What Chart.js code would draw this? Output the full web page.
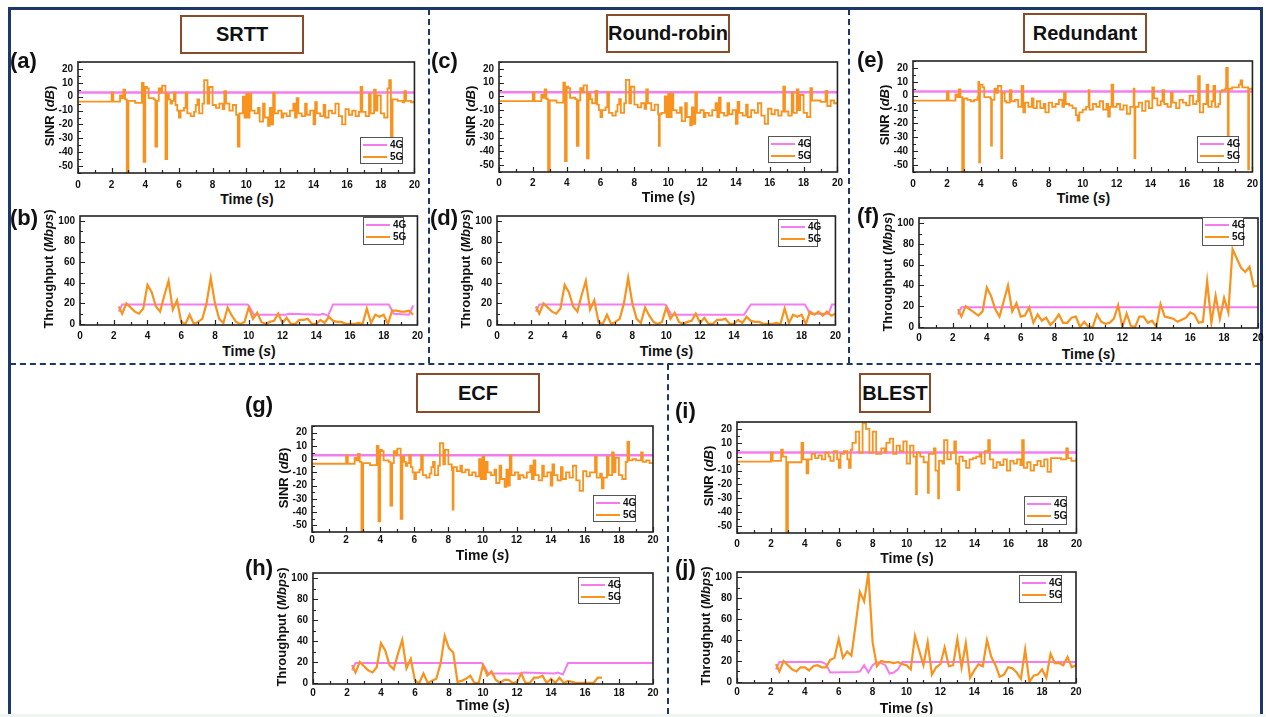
<!DOCTYPE html>
<html>
<head>
<meta charset="utf-8">
<script src="https://cdn.jsdelivr.net/npm/chart.js@4.4.1/dist/chart.umd.min.js"></script>
<style>
  body { margin: 0; width: 1266px; height: 717px; background: #fff; position: relative; overflow: hidden;
         font-family: "Liberation Sans", Arial, sans-serif; color: #111; }
  .frame { position: absolute; left: 8px; top: 7px; width: 1255px; height: 740px; border: 3px solid #1d3868; box-sizing: border-box; }
  .dv { position: absolute; width: 0; border-left: 2px dashed #1d3868; }
  .dh { position: absolute; height: 0; border-top: 2px dashed #1d3868; }
  .band { position: absolute; left: 0; top: 714px; width: 1266px; height: 3px; background: #eff6f2; z-index: 5; }
  .title { position: absolute; box-sizing: border-box; border: 2px solid #8a4b2a; background: #fff;
           font-weight: bold; font-size: 20px; display: flex; align-items: center; justify-content: center; }
  .lab { position: absolute; font-weight: bold; font-size: 22px; line-height: 1; }
  .yt { position: absolute; font-weight: bold; font-size: 13px; white-space: nowrap; line-height: 1;
        transform: translate(-50%, -50%) rotate(-90deg); }
  .xt { position: absolute; font-weight: bold; font-size: 14px; white-space: nowrap; line-height: 1; transform: translateX(-50%); }
  canvas { position: absolute; }
  .leg { position: absolute; box-sizing: border-box; border: 1px solid #555; background: #fff; font-weight: bold; font-size: 10px; }
  .leg div { height: 12px; line-height: 12px; padding-left: 2px; white-space: nowrap; }
  .leg span { display: inline-block; width: 24px; vertical-align: middle; margin-right: 3px; }
</style>
</head>
<body>
<div class="frame"></div>
<div class="dv" style="left:428px; top:9px; height:354px"></div>
<div class="dv" style="left:848px; top:9px; height:354px"></div>
<div class="dh" style="left:10px; top:363px; width:1251px"></div>
<div class="dv" style="left:667px; top:364px; height:350px"></div>
<div class="band"></div>

<div class="title" style="left:180px; top:15px; width:124px; height:39px">SRTT</div>
<div class="title" style="left:606px; top:14px; width:124px; height:39px">Round-robin</div>
<div class="title" style="left:1023px; top:13px; width:124px; height:40px">Redundant</div>
<div class="title" style="left:416px; top:373px; width:124px; height:40px">ECF</div>
<div class="title" style="left:859px; top:373px; width:72px; height:40px">BLEST</div>

<script>
/* AXES */
const xTicks = [0, 2, 4, 6, 8, 10, 12, 14, 16, 18, 20];
const sinrTicks = [-50, -40, -30, -20, -10, 0, 10, 20];
const tpTicks = [0, 20, 40, 60, 80, 100];

/* 4G SINR (same flat line in every panel) */
const sinr4gT = [0, 20];
const sinr4gV = [3, 3];

/* 5G SINR - SRTT (a) */
const srttT = [0,2,2.1,2.5,2.6,2.7,2.8,2.9,3.0,3.4, 3.8,3.9,4.0,4.1,4.2,4.5,4.6,4.7,4.8,4.9,
  5.0,5.2,5.3,5.4,5.5,5.6,5.7,5.8,5.9,6.0, 6.1,6.3,6.4,6.5,6.7,6.9,7.0,7.1,7.2,7.4,
  7.5,7.7,7.8,8.0,8.2,8.4,8.6,8.7,8.8,9.0, 9.2,9.4,9.5,9.6,9.8,9.9,10.0,10.1,10.2,10.3,
  10.5,10.7,10.8,11.0,11.1,11.3,11.4,11.5,11.6,11.7, 11.9,12.1,12.2,12.4,12.6,12.8,12.9,13.0,13.1,13.3,
  13.5,13.6,13.8,14.0,14.1,14.2,14.4,14.6,14.7,14.9, 15.1,15.3,15.5,15.7,15.9,16.1,16.3,16.5,16.7,16.8,
  16.9,17.1,17.3,17.4,17.6,17.7,17.8,18.0,18.2,18.4, 18.5,18.6,18.7,19.0,19.3,19.4,19.5,19.8,20];
const srttV = [-3.5,3,-3.5,1,-1,5,-2,-56,-3,-4.5, 10,-47,7,6,-1,-2,-36,-3,6,3,
  8,-45,2,-2,-5,-3,3,-6,-10,-15, -10,-8,3,-12,-14,-11,-6,-2,-12,-5,
  12,-5,7,-6,-8,-5,-9,4,-5,-10, -6,-13,-36,-12,0,-15,2,-15,2,-10,
  -12,-8,-18,-5,-15,-21,-8,-20,3,-12, -10,-15,-12,-14,-10,-5,-15,-1,-12,-14,
  -5,-13,-10,-20,-4,-12,-14,-6,-15,-10, -12,-5,-14,-20,-9,-13,-10,-14,-11,7,
  -11,-14,2,-12,5,-10,1,-12,-15,6, 12,-30,-2,-3,-4,4,-3,-4,-3];

/* 5G SINR - Round-robin (c) */
const rrT = [0,2,2.1,2.5,2.6,2.7,2.8,2.9,3.0,3.4, 3.8,3.9,4.0,4.1,4.2,4.5,4.6,4.7,4.8,4.9,
  5.0,5.2,5.3,5.4,5.5,5.7,5.8,5.9,6.0,6.1, 6.3,6.4,6.5,6.7,6.9,7.0,7.1,7.2,7.4,7.5,
  7.7,7.8,8.0,8.2,8.4,8.6,8.7,8.8,9.0,9.2, 9.4,9.45,9.5,9.6,9.8,9.9,10.0,10.1,10.2,10.3,
  10.5,10.7,10.8,11.0,11.1,11.3,11.4,11.5,11.6,11.7, 11.9,12.1,12.2,12.4,12.6,12.8,12.9,13.0,13.1,13.3,
  13.5,13.6,13.8,14.0,14.1,14.2,14.4,14.6,14.7,14.9, 15.1,15.3,15.5,15.7,15.9,16.1,16.3,16.5,16.7,16.8,
  16.9,17.1,17.3,17.4,17.6,17.7,17.8,18.0,18.2,18.4, 18.5,18.8,19.0,19.3,19.4,19.6,19.8,20];
const rrV = [-3.5,3,-3.5,1,-1,5,-2,-56,-3,-4.5, 10,-47,7,6,-1,-2,-36,-3,6,3,
  8,-45,2,-2,-5,4,-6,-10,-15,-10, -8,3,-12,-14,-11,-6,-2,-12,-5,12,
  -5,7,-6,-8,-5,-9,5,-5,-10,-6, -13,-36,-13,-12,0,-15,2,-15,2,-10,
  -12,-8,-18,-5,-15,-21,-8,-20,3,-12, -10,-15,-12,-14,-10,-5,-15,-1,-12,-14,
  -5,-13,-10,-20,-4,-12,-14,-6,-15,-10, -12,-5,-14,-20,-9,-13,-10,-14,-11,7,
  -11,-14,3,-12,5,-10,1,-12,-15,6, -3,-3,-4,4,-7,-3,-5,-4];

/* 5G SINR - Redundant (e) */
const redT = [0,2,2.1,2.5,2.6,2.7,2.8,2.9,3.0,3.2, 3.4,3.6,3.8,3.85,3.9,3.95,4.1,4.2,4.55,4.6,
  4.65,4.8,4.9,5.0,5.2,5.25,5.4,5.5,5.7,5.8, 6.0,6.2,6.4,6.5,6.6,6.8,7.0,7.1,7.3,7.5,
  7.7,7.8,8.0,8.2,8.4,8.6,8.8,8.9,9.0,9.2, 9.4,9.6,9.7,9.8,10.0,10.2,10.35,10.4,10.6,10.8,
  11.0,11.2,11.4,11.5,11.6,11.7,11.8,12.0,12.2,12.4, 12.6,12.8,13.0,13.05,13.1,13.3,13.5,13.7,13.9,14.1,
  14.2,14.4,14.6,14.7,14.8,15.0,15.2,15.3,15.5,15.7, 15.9,16.1,16.3,16.5,16.7,16.8,16.9,17.1,17.3,17.4,
  17.6,17.7,17.8,18.0,18.1,18.2,18.4,18.45,18.55,18.6, 18.8,19.0,19.2,19.3,19.4,19.6,19.75,19.8,20];
const redV = [-3.5,3,-3.5,1,-1,4.5,-1,-56,-2,-3, -4,-3,-1,10,-48,8,6,-1,-2,-36,
  -3,5,2,7,-45,2,-4,-5,4,-4, -3,-8,7,-12,-5,-8,-2,-9,-4,-9,
  -6,-12,-5,-8,-6,-3,-8,2,-6,-7, -9,-14,-18,-12,-10,-8,4,-10,-6,-8,
  -4,-10,-6,-15,-8,8,-8,-6,-10,-7, -13,-8,5,-45,-8,-5,-11,-4,-9,6,
  -2,-7,-4,4,-6,-8,2,-5,-9,-3, -5,-7,0,-6,-4,14,-12,-6,8,-8,
  -4,7,-8,-6,3,4,5,20,-30,5, 6,6,8,11,6,6,-53,5,4];

/* 5G SINR - ECF (g) */
const ecfT = [0,2,2.1,2.5,2.6,2.7,2.8,2.9,3.0,3.4, 3.8,3.9,4.0,4.1,4.2,4.5,4.6,4.7,4.8,4.9,
  5.0,5.2,5.3,5.4,5.5,5.6,5.7,5.8,5.9,6.0, 6.1,6.3,6.4,6.5,6.7,6.9,7.0,7.1,7.2,7.4,
  7.5,7.7,7.8,8.0,8.2,8.25,8.3,8.5,8.7,8.8, 9.0,9.2,9.4,9.6,9.8,9.9,10.0,10.1,10.2,10.3,
  10.5,10.7,10.8,11.0,11.1,11.3,11.4,11.5,11.6,11.7, 11.9,12.1,12.2,12.4,12.6,12.8,12.9,13.0,13.1,13.3,
  13.5,13.6,13.8,14.0,14.1,14.2,14.4,14.6,14.7,14.9, 15.1,15.3,15.5,15.7,15.9,16.1,16.3,16.6,16.7,16.9,
  17.0,17.1,17.3,17.4,17.6,17.7,17.8,18.0,18.2,18.4, 18.5,18.6,18.8,19.0,19.3,19.4,19.6,19.8,20];
const ecfV = [-3.5,3,-3.5,1,-1,4,-2,-56,-3,-4.5, 10,-47,7,6,-1,-2,-35,-3,6,3,
  8,-45,2,-2,-5,-3,3,-6,-10,-15, -10,-8,3,-12,-14,-11,-6,-2,-12,-5,
  12,-4,7,-4,-8,-38,-6,-9,-5,-10, -8,-12,-10,-13,0,-15,2,-15,-2,-10,
  -12,-8,-18,-5,-15,-21,-8,-20,3,-12, -10,-15,-12,-14,-10,-5,-15,-1,-12,-16,
  -5,-13,-10,-20,-4,-12,-16,-6,-15,-10, -14,-5,-16,-24,-9,-13,-10,2,-14,-11,
  -22,-14,2,-12,5,-10,1,-12,-15,-2, 13,-1,0,-1,5,-2,-1,-3,-2];

/* 5G SINR - BLEST (i) */
const blestT = [0,2,2.1,2.6,2.7,2.9,3.0,3.8,3.9,4.1, 4.2,4.4,4.6,4.8,5.0,5.2,5.4,5.5,5.7,5.9,
  6.0,6.1,6.3,6.5,6.6,6.7,6.8,7.0,7.2,7.4, 7.6,7.8,8.0,8.2,8.5,8.7,8.8,9.0,9.2,9.4,
  9.6,9.8,10.0,10.2,10.4,10.55,10.6,10.8,11.0,11.25, 11.3,11.6,11.7,11.85,11.9,12.1,12.2,12.4,12.6,12.8,
  12.9,13.0,13.1,13.3,13.5,13.7,13.9,14.1,14.3,14.4, 14.6,14.8,14.9,15.1,15.3,15.5,15.7,15.9,16.1,16.3,
  16.5,16.7,16.8,16.9,17.1,17.3,17.5,17.7,17.9,18.1, 18.3,18.5,18.8,19.1,19.4,19.5,19.7,20];
const blestV = [-3.5,3,-3,5,0,-56,-4,10,-2,-12, -2,2,-1,1,-2,3,0,-3,4,-2,
  -8,2,4,-2,-8,5,10,18,3,24, 20,3,18,2,6,3,10,13,2,8,
  4,11,-5,8,0,-27,3,0,-4,-26, 2,6,-10,-30,-3,-5,12,-2,3,11,
  -5,-24,0,-3,-8,-2,-1,0,2,-5, 4,12,-2,-8,-4,-6,-2,-10,-3,-5,
  -2,-6,12,-8,-4,-10,-6,-3,-7,-2, -11,-1,-1,-2,6,-1,-3,-1];

/* THROUGHPUT sample times */
const tpTime = [2.3,2.5,2.75,3,3.25,3.5,3.75, 4,4.25,4.5,4.75, 5,5.25,5.5,5.75, 6,6.25,6.5,6.75,
  7,7.25,7.5,7.75, 8,8.25,8.5,8.75, 9,9.25,9.5,9.75, 10,10.25,10.5,10.75, 11,11.25,11.5,11.75,
  12,12.25,12.5,12.75, 13,13.25,13.5,13.75, 14,14.25,14.5,14.75, 15,15.25,15.5,15.75,
  16,16.25,16.5,16.75, 17,17.25,17.5,17.75, 18,18.25,18.5,18.75, 19,19.25,19.5,19.75, 20];

/* 5G throughput */
const srttTp5g = [17,10,20,16,12,10,15, 38,31,17,12, 28,42,14,23, 2,0,9,0, 2,5,20,45, 20,5,1,16,
  8,2,0,2, 16,5,11,2, 0,2,3,10, 1,6,0,0, 4,4,5,0, 0,4,1,7, 3,2,2,0, 0,0,1,0, 15,1,9,7, 9,0,13,13, 12,12,13,9];
const rrTp5g = [17,10,20,16,12,10,15, 38,31,17,12, 28,42,14,23, 2,0,9,0, 2,5,20,45, 20,5,1,16,
  8,2,0,2, 16,5,11,2, 0,2,3,10, 1,6,0,0, 4,4,5,0, 0,4,1,7, 3,2,2,0, 0,0,1,0, 15,1,9,7, 9,0,12,9, 12,8,12,8, 10];
const redTp5g = [17,10,20,17,14,11,15, 38,30,17,10, 25,40,15,23, 10,11,19,4, 12,6,9,2, 6,12,4,4,
  9,10,0,5, 0,0,12,5, 3,4,8,21, 0,13,1,0, 10,10,4,6, 0,22,10,9, 8,5,7,9, 14,12,4,5, 44,4,30,8, 28,14,75,66, 57,53,58,39, 40];
const ecfTp5g = [17,10,20,16,12,10,15, 38,31,17,13, 28,41,14,23, 2,0,9,0, 2,4,18,45, 33,29,1,2,
  4,7,0,0, 17,7,11,3, 0,3,3,0, 1,9,0,0, 5,5,7,0, 4,0,5,0, 2,1,0,0, 0,0,0,5, 5];
const blestTp5g = [17,10,20,16,12,10,14, 14,11,15,16, 14,14,21,23, 41,23,29,25, 55,86,77,104, 38,15,20,19,
  19,18,19,17, 16,12,44,30, 16,38,7,14, 17,33,15,16, 41,14,37,4, 11,17,15,40, 24,16,5,7, 14,13,9,3,
  31,0,6,7, 12,4,27,18, 18,16,24,14, 16];

/* 4G throughput */
const srttTp4gT = [2.3,2.5,9.9,10.0,10.3,12.2,12.4,14.2,14.4,14.7,15.0,18.3,18.6,19.5,19.75];
const srttTp4gV = [12,19,19,18,9,9,10,9,10,8,19,19,10,9,18];
const rrTp4gT = [2.3,2.5,9.9,10.0,10.3,14.6,15.0,18.2,18.5,19.6,19.8,20];
const rrTp4gV = [12,19,19,18,9,9,19,19,10,10,19,19];
const redTp4gT = [2.3,2.5,20];
const redTp4gV = [12,19,19];
const ecfTp4gT = [2.3,2.5,9.9,10.0,10.3,12.2,12.4,14.2,14.4,14.7,15.0,20];
const ecfTp4gV = [12,19,19,18,9,9,10,9,10,8,19,19];
const blestTp4gT = [2.3,2.5,5.0,5.25,5.5,7.0,7.25,7.5,7.75,8.0,8.25,8.5,8.75,9.0,9.25,9.5,9.75,20];
const blestTp4gV = [12,19,19,17,9,9.5,10,16,9,16,19,18,16,8,9,12,19,19];

/* STYLE */
const ORANGE = "#f7931e";
const PINK = "#f47cf0";
const PADL = 40, PADT = 8, PADR = 10, PADB = 18;

function pts(t, v) {
  return t.map((x, i) => ({ x: x, y: v[i] }));
}

/* frame + inward tick marks, placed with the chart's own scales */
const frameTicks = {
  id: "frameTicks",
  afterDraw(chart, args, opts) {
    const ctx = chart.ctx, a = chart.chartArea;
    const xs = chart.scales.x, ys = chart.scales.y;
    ctx.save();
    ctx.strokeStyle = "#222";
    ctx.lineWidth = 1.2;
    ctx.beginPath();
    for (let v = 0; v <= 20; v += 1) {
      const px = Math.round(xs.getPixelForValue(v)) + 0.5;
      const len = v % 2 === 0 ? 5 : 3;
      ctx.moveTo(px, a.bottom);
      ctx.lineTo(px, a.bottom - len);
    }
    for (let v = opts.yFrom; v <= opts.yTo; v += opts.yMinor) {
      const py = Math.round(ys.getPixelForValue(v)) + 0.5;
      const len = v % opts.yMajor === 0 ? 5 : 3;
      ctx.moveTo(a.left, py);
      ctx.lineTo(a.left + len, py);
    }
    ctx.stroke();
    ctx.lineWidth = 1.6;
    ctx.strokeRect(a.left, a.top, a.right - a.left, a.bottom - a.top);
    ctx.restore();
  }
};

function addText(cls, html, style) {
  const d = document.createElement("div");
  d.className = cls;
  d.innerHTML = html;
  Object.assign(d.style, style);
  document.body.appendChild(d);
  return d;
}

function makePanel(p) {
  const [l, t, r, b] = p.box;
  const w = r - l + PADL + PADR, h = b - t + PADT + PADB;
  const cv = document.createElement("canvas");
  cv.width = w; cv.height = h;
  cv.style.left = (l - PADL) + "px";
  cv.style.top = (t - PADT) + "px";
  document.body.appendChild(cv);

  const sinr = p.kind === "sinr";
  const tickFont = { family: "Liberation Sans", size: 10, weight: "bold" };

  new Chart(cv.getContext("2d"), {
    type: "line",
    data: {
      datasets: [
        { data: pts(p.t5, p.v5), borderColor: ORANGE, borderWidth: sinr ? 1.8 : 2.2, stepped: sinr, pointRadius: 0, tension: 0 },
        { data: pts(p.t4, p.v4), borderColor: PINK, borderWidth: sinr ? 2.5 : 2, pointRadius: 0, tension: 0 }
      ]
    },
    options: {
      responsive: false,
      animation: false,
      events: [],
      layout: { padding: { left: 0, top: PADT, right: PADR, bottom: 0 } },
      plugins: {
        legend: { display: false },
        tooltip: { enabled: false },
        frameTicks: sinr ? { yFrom: -55, yTo: 25, yMinor: 5, yMajor: 10 } : { yFrom: 0, yTo: 100, yMinor: 10, yMajor: 20 }
      },
      scales: {
        x: {
          type: "linear", min: 0, max: 20,
          afterBuildTicks: s => { s.ticks = xTicks.map(v => ({ value: v })); },
          afterFit: s => { s.height = PADB; },
          grid: { display: false, drawTicks: false }, border: { display: false },
          ticks: { font: tickFont, color: "#111", padding: p.xPad, maxRotation: 0, autoSkip: false }
        },
        y: {
          min: sinr ? -55 : -1, max: sinr ? 25 : 105,
          afterBuildTicks: s => { s.ticks = (sinr ? sinrTicks : tpTicks).map(v => ({ value: v })); },
          afterFit: s => { s.width = PADL; },
          grid: { display: false, drawTicks: false }, border: { display: false },
          ticks: { font: tickFont, color: "#111", padding: 5, autoSkip: false }
        }
      }
    },
    plugins: [frameTicks]
  });

  // axis titles, panel label, legend
  addText("yt", sinr ? "SINR (<i>dB</i>)" : "Throughput (<i>Mbps</i>)",
    { left: (l - (sinr ? 29 : 32)) + "px", top: ((t + b) / 2) + "px" });
  addText("xt", "Time (<i>s</i>)", { left: ((l + r) / 2) + "px", top: (b + p.xt) + "px" });
  addText("lab", p.label, { left: p.lab[0] + "px", top: p.lab[1] + "px" });
  const [ll, lt, lr, lb] = p.legend;
  addText("leg",
    '<div><span style="height:2px;background:' + PINK + '"></span>4G</div>' +
    '<div><span style="height:2px;background:' + ORANGE + '"></span>5G</div>',
    { left: ll + "px", top: lt + "px", width: (lr - ll) + "px", height: (lb - lt) + "px", paddingTop: "1px" });
}

const panels = [
  { kind: "sinr", label: "(a)", lab: [10, 50], box: [78, 59, 416, 173], legend: [360, 137, 403, 164], xPad: 6, xt: 19, t5: srttT, v5: srttV, t4: sinr4gT, v4: sinr4gV },
  { kind: "tp", label: "(b)", lab: [10, 207], box: [80, 213, 418, 325], legend: [363, 217, 404, 245], xPad: 5, xt: 19, t5: tpTime, v5: srttTp5g, t4: srttTp4gT, v4: srttTp4gV },
  { kind: "sinr", label: "(c)", lab: [431, 50], box: [499, 59, 838, 172], legend: [768, 136, 811, 163], xPad: 5, xt: 18, t5: rrT, v5: rrV, t4: sinr4gT, v4: sinr4gV },
  { kind: "tp", label: "(d)", lab: [430, 207], box: [497, 213, 836, 325], legend: [778, 219, 818, 247], xPad: 5, xt: 19, t5: tpTime, v5: rrTp5g, t4: rrTp4gT, v4: rrTp4gV },
  { kind: "sinr", label: "(e)", lab: [857, 49], box: [913, 58, 1254, 172], legend: [1197, 136, 1239, 163], xPad: 6, xt: 19, t5: redT, v5: redV, t4: sinr4gT, v4: sinr4gV },
  { kind: "tp", label: "(f)", lab: [857, 205], box: [919, 215, 1258, 328], legend: [1202, 217, 1244, 246], xPad: 4, xt: 19, t5: tpTime, v5: redTp5g, t4: redTp4gT, v4: redTp4gV },
  { kind: "sinr", label: "(g)", lab: [245, 394], box: [312, 423, 653, 532], legend: [593, 495, 636, 522], xPad: 2, xt: 16, t5: ecfT, v5: ecfV, t4: sinr4gT, v4: sinr4gV },
  { kind: "tp", label: "(h)", lab: [245, 557], box: [313, 570, 653, 684], legend: [578, 577, 620, 604], xPad: 3, xt: 14, t5: tpTime, v5: ecfTp5g, t4: ecfTp4gT, v4: ecfTp4gV },
  { kind: "sinr", label: "(i)", lab: [675, 400], box: [737, 419, 1077, 533], legend: [1024, 496, 1067, 525], xPad: 5, xt: 18, t5: blestT, v5: blestV, t4: sinr4gT, v4: sinr4gV },
  { kind: "tp", label: "(j)", lab: [675, 557], box: [737, 569, 1076, 683], legend: [1019, 575, 1062, 603], xPad: 3, xt: 18, t5: tpTime, v5: blestTp5g, t4: blestTp4gT, v4: blestTp4gV }
];

panels.forEach(makePanel);
</script>
</body>
</html>
